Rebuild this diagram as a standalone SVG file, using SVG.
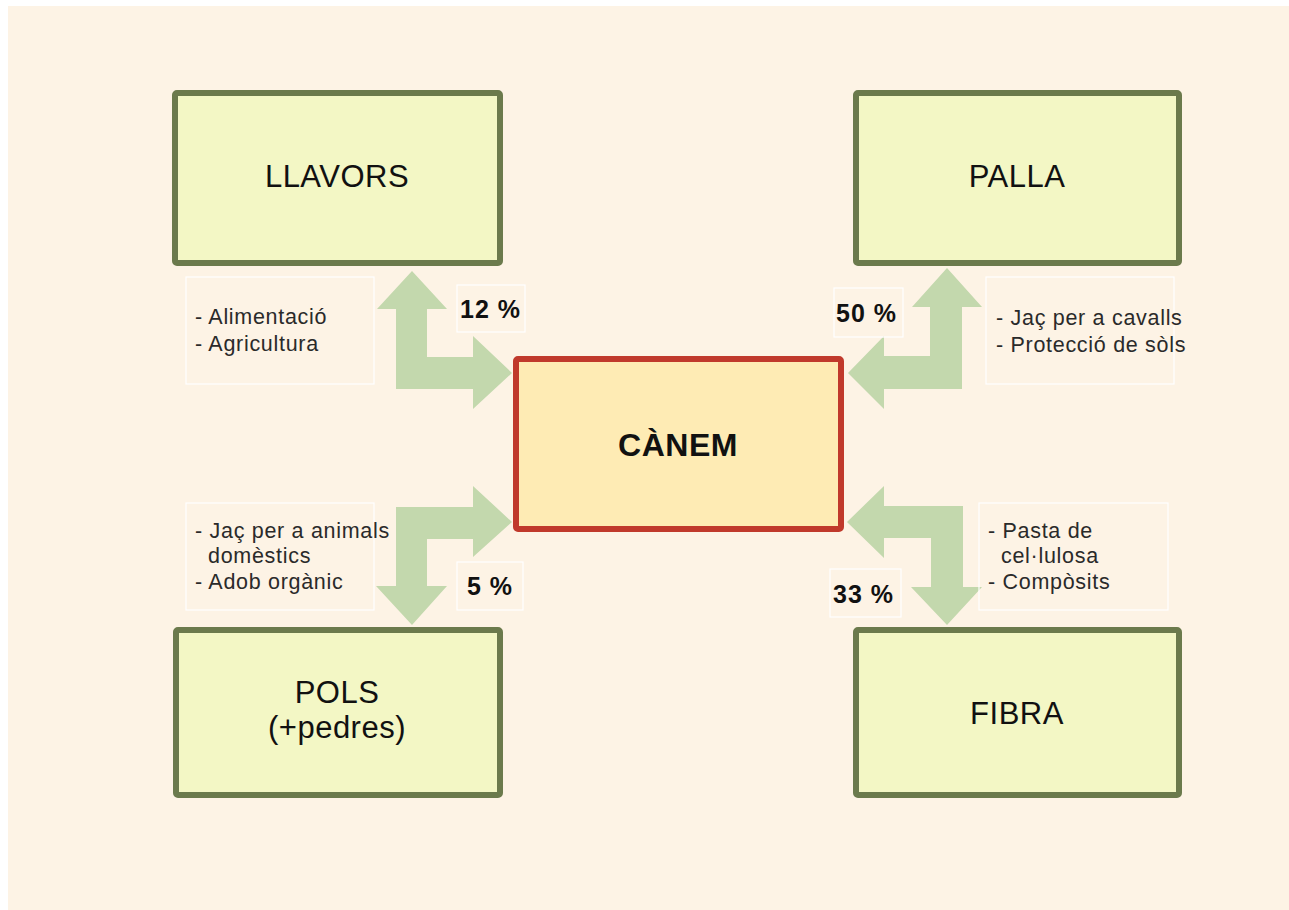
<svg xmlns="http://www.w3.org/2000/svg" width="1289" height="910" viewBox="0 0 1289 910">
<style>
.node{fill:#f3f7c5;stroke:#6b7a4c;stroke-width:6}
.center{fill:#feebb4;stroke:#c0392b;stroke-width:6}
.lbl{font-family:"Liberation Sans",Arial,sans-serif;font-size:31px;fill:#111;text-anchor:middle;letter-spacing:0.5px}
.clbl{font-family:"Liberation Sans",Arial,sans-serif;font-size:32px;font-weight:bold;fill:#111;text-anchor:middle;letter-spacing:0.5px}
.note{font-family:"Liberation Sans",Arial,sans-serif;font-size:21.5px;fill:#2a2a2a;letter-spacing:0.7px}
.pct{font-family:"Liberation Sans",Arial,sans-serif;font-size:25px;font-weight:bold;fill:#111;letter-spacing:1px}
.tbox{fill:none;stroke:#ffffff;stroke-width:1.2}
.arrow{fill:#c3d8ad}
</style>
<rect x="0" y="0" width="1289" height="910" fill="#ffffff"/>
<rect x="8" y="6" width="1281" height="904" fill="#fdf3e5"/>
<g id="connectors">
<path class="arrow" d="M412,271 L447,309 L427,309 L427,357 L473,357 L473,336 L512,373 L473,409 L473,389 L396,389 L396,309 L377,309 Z"/>
<path class="arrow" d="M947,268 L982,307 L962,307 L962,389 L884,389 L884,409 L848,373 L884,336 L884,356 L930,356 L930,307 L912,307 Z"/>
<path class="arrow" d="M512,522 L473,557 L473,539 L427,539 L427,586 L447,586 L412,625 L376,586 L396,586 L396,507 L473,507 L473,486 Z"/>
<path class="arrow" d="M847,522 L884,486 L884,506 L963,506 L963,587 L982,587 L947,625 L911,587 L931,587 L931,538 L884,538 L884,558 Z"/>
</g>
<g id="llavors">
<rect class="node" x="175" y="93" width="325" height="170" rx="2"/>
<text class="lbl" x="337" y="187">LLAVORS</text>
</g>
<g id="palla">
<rect class="node" x="856" y="93" width="323" height="170" rx="2"/>
<text class="lbl" x="1017" y="187">PALLA</text>
</g>
<g id="pols">
<rect class="node" x="176" y="630" width="324" height="165" rx="2"/>
<text class="lbl" x="337" y="703">POLS</text>
<text class="lbl" x="337" y="738">(+pedres)</text>
</g>
<g id="fibra">
<rect class="node" x="856" y="630" width="323" height="165" rx="2"/>
<text class="lbl" x="1017" y="724">FIBRA</text>
</g>
<g id="canem">
<rect class="center" x="516" y="359" width="325" height="170" rx="2"/>
<text class="clbl" x="678" y="456">CÀNEM</text>
</g>
<g id="note-llavors">
<rect class="tbox" x="186" y="277" width="188" height="107"/>
<text class="note" x="195" y="324">- Alimentació</text>
<text class="note" x="195" y="351">- Agricultura</text>
</g>
<g id="note-palla">
<rect class="tbox" x="986" y="277" width="188" height="107"/>
<text class="note" x="996" y="325">- Jaç per a cavalls</text>
<text class="note" x="996" y="352">- Protecció de sòls</text>
</g>
<g id="note-pols">
<rect class="tbox" x="186" y="503" width="188" height="107"/>
<text class="note" x="195" y="538">- Jaç per a animals</text>
<text class="note" x="208" y="563">domèstics</text>
<text class="note" x="195" y="589">- Adob orgànic</text>
</g>
<g id="note-fibra">
<rect class="tbox" x="979" y="503" width="189" height="107"/>
<text class="note" x="988" y="538">- Pasta de</text>
<text class="note" x="1001" y="563">cel·lulosa</text>
<text class="note" x="988" y="589">- Compòsits</text>
</g>
<g id="pct-llavors">
<rect class="tbox" x="457" y="285" width="68" height="47"/>
<text class="pct" x="460" y="318">12 %</text>
</g>
<g id="pct-palla">
<rect class="tbox" x="834" y="288" width="69" height="49"/>
<text class="pct" x="836" y="322">50 %</text>
</g>
<g id="pct-pols">
<rect class="tbox" x="457" y="562" width="66" height="48"/>
<text class="pct" x="467" y="595">5 %</text>
</g>
<g id="pct-fibra">
<rect class="tbox" x="830" y="569" width="71" height="48"/>
<text class="pct" x="833" y="603">33 %</text>
</g>
</svg>
